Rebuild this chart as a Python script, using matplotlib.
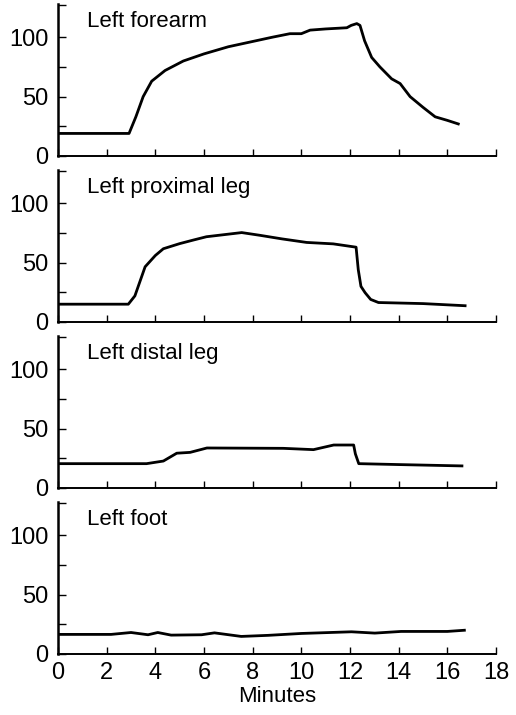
import matplotlib.pyplot as plt
from matplotlib.ticker import FixedLocator

plt.rcParams['font.family'] = ['Liberation Sans', 'DejaVu Sans']

# traced curves (minutes, value)
forearm_x = [0, 2.92, 3.2, 3.5, 3.85, 4.4, 5.15, 6.0, 7.0, 7.9, 8.8, 9.53, 10.0, 10.36, 11.0, 11.87, 12.05, 12.28, 12.41, 12.6, 12.89, 13.23, 13.71, 14.06, 14.47, 15.0, 15.5, 16.0, 16.45]
forearm_y = [19, 19, 33, 50, 63, 72, 80, 86, 92, 96, 100, 103, 103, 106, 107, 108, 110, 111.5, 110, 97, 83, 75, 65, 61, 50, 41, 33, 30, 27]

prox_x = [0, 2.89, 3.16, 3.58, 4.0, 4.33, 5.0, 5.56, 6.1, 7.55, 8.3, 9.2, 10.22, 11.31, 12.25, 12.34, 12.45, 12.62, 12.85, 13.17, 15.0, 16.73]
prox_y = [15, 15, 22, 46.5, 56, 61.7, 66, 69, 71.8, 75.3, 73, 70, 67, 65.8, 63, 44, 30, 24.7, 19, 16.4, 15.5, 13.7]

distal_x = [0, 3.64, 4.33, 4.88, 5.43, 6.12, 9.26, 10.5, 11.33, 12.15, 12.22, 12.36, 14.07, 16.6]
distal_y = [20.5, 20.5, 22.7, 29.3, 30, 33.7, 33.4, 32.3, 36.2, 36.2, 28.8, 20.5, 19.7, 18.6]

foot_x = [0, 2.18, 3.0, 3.7, 4.1, 4.65, 5.9, 6.43, 7.53, 8.63, 10.0, 12.06, 13.02, 14.1, 16.0, 16.7]
foot_y = [16.5, 16.5, 18.1, 16.2, 18.1, 15.9, 16.2, 17.8, 14.8, 15.7, 17.3, 18.7, 17.6, 19, 19, 20]

titles = ['Left forearm', 'Left proximal leg', 'Left distal leg', 'Left foot']
series = [(forearm_x, forearm_y), (prox_x, prox_y), (distal_x, distal_y), (foot_x, foot_y)]
xticks = list(range(0, 19, 2))

fig = plt.figure(figsize=(5.16, 7.15), dpi=100)
W, H = 516, 715
bottoms = [156, 322, 488, 654]  # pixel rows of the baselines
for i in range(4):
    b = bottoms[i]
    ax = fig.add_axes([58 / W, 1 - b / H, 438 / W, 152 / H])
    x, y = series[i]
    ax.plot(x, y, color='black', lw=2)
    ax.set_xlim(0, 18)
    ax.set_ylim(0, 128)
    ax.spines['top'].set_visible(False)
    ax.spines['right'].set_visible(False)
    ax.spines['left'].set_linewidth(1.8)
    ax.spines['bottom'].set_linewidth(1.4)
    ax.set_yticks([0, 50, 100])
    ax.yaxis.set_minor_locator(FixedLocator([25, 75, 127.5]))
    ax.set_xticks(xticks)
    ax.tick_params(axis='both', which='both', direction='in', labelsize=17, width=1)
    ax.tick_params(axis='y', which='major', length=6, pad=7)
    ax.tick_params(axis='y', which='minor', length=6)
    ax.tick_params(axis='x', which='major', length=5, pad=6)
    if i < 3:
        ax.tick_params(axis='x', labelbottom=False)
    else:
        ax.set_xlabel('Minutes', fontsize=16, labelpad=1)
    ax.text(1.2, 113, titles[i], fontsize=16, va='center', ha='left')

fig.savefig('out.png', dpi=100)
